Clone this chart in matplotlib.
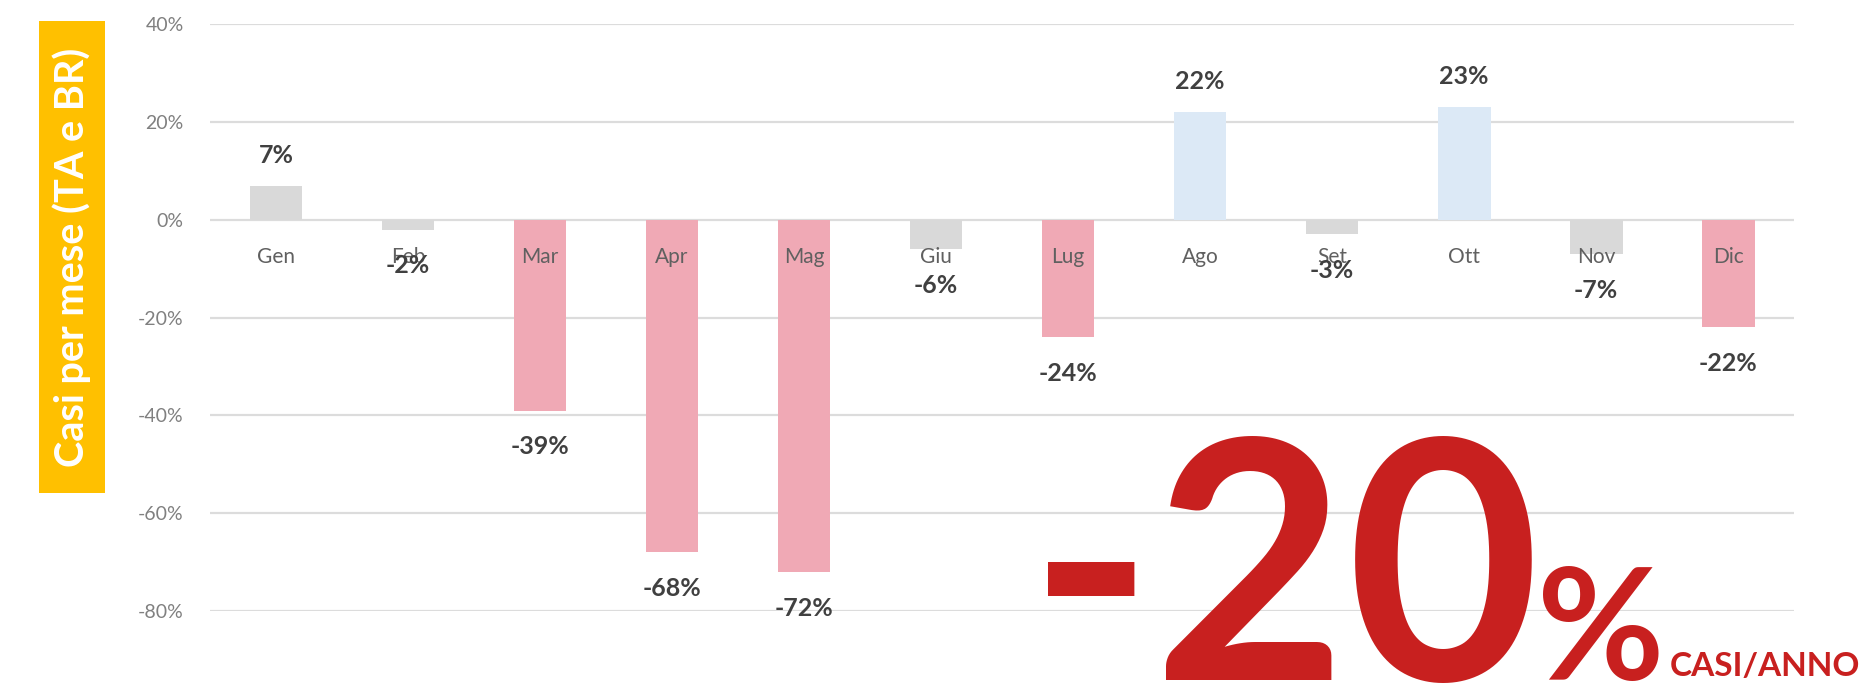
import matplotlib
matplotlib.use('Agg')
import matplotlib.pyplot as plt
from matplotlib.patches import Rectangle
import numpy as np

plt.rcParams['font.family'] = ['Lato', 'DejaVu Sans']

# monthly change in cases (TA and BR), percent
months = ['Gen', 'Feb', 'Mar', 'Apr', 'Mag', 'Giu', 'Lug', 'Ago', 'Set', 'Ott', 'Nov', 'Dic']
change = [7, -2, -39, -68, -72, -6, -24, 22, -3, 23, -7, -22]
yearly = -20

GREY = '#d9d9d9'
PINK = '#f0a9b5'
BLUE = '#dce9f6'
RED = '#c8201f'


def bar_colour(v):
    if v > 10:
        return BLUE
    if v < -10:
        return PINK
    return GREY


fig = plt.figure(figsize=(18.65, 6.92), dpi=100)
ax = fig.add_axes([0.1126, 0.117, 0.8494, 0.848])

x = np.arange(len(months))
ax.bar(x, change, width=0.4, color=[bar_colour(v) for v in change], zorder=2)

ax.set_xlim(-0.5, len(months) - 0.5)
ax.set_ylim(-80, 40)
ax.set_yticks(np.arange(-80, 41, 20))
ax.set_yticklabels(['%d%%' % t for t in np.arange(-80, 41, 20)])
ax.tick_params(axis='y', length=0, pad=19, labelsize=14, labelcolor='#808080')
ax.set_xticks([])
ax.yaxis.grid(True, color='#dcdcdc', linewidth=1.6)
ax.set_axisbelow(True)
for s in ax.spines.values():
    s.set_visible(False)

# month names sit just under the zero line, over the bars
for i, m in enumerate(months):
    ax.annotate(m, (i, 0), xytext=(0, -27), textcoords='offset points',
                ha='center', va='center', fontsize=15, color='#606060', zorder=4)

# value labels above / below each bar
for i, v in enumerate(change):
    off = 22 if v > 0 else -26
    ax.annotate('%d%%' % v, (i, v), xytext=(0, off), textcoords='offset points',
                ha='center', va='center', fontsize=18, fontweight='bold',
                color='#404040', zorder=5)

# y axis title in a yellow box
fig.patches.append(Rectangle((0.0209, 0.2876), 0.0354, 0.682, transform=fig.transFigure,
                             facecolor='#ffc000', edgecolor='none'))
fig.text(0.0386, 0.6286, 'Casi per mese (TA e BR)', rotation=90, ha='center', va='center',
         fontsize=28.5, fontweight='bold', color='white')

# yearly total, written as three pieces sharing a baseline
base = 0.0173
big = fig.text(0.552, base, '%d' % yearly, ha='left', va='baseline',
               fontsize=240, fontweight='bold', color=RED)
fig.canvas.draw()
r = fig.canvas.get_renderer()
inv = fig.transFigure.inverted()
x1 = inv.transform((big.get_window_extent(r).x1, 0))[0]
pct = fig.text(x1 - 0.002, base, '%', ha='left', va='baseline',
               fontsize=112, fontweight='bold', color=RED)
x2 = inv.transform((pct.get_window_extent(r).x1, 0))[0]
fig.text(x2 + 0.003, base + 0.006, 'CASI/ANNO', ha='left', va='baseline',
         fontsize=24, fontweight='bold', color=RED)

fig.savefig('out.png', dpi=100)
